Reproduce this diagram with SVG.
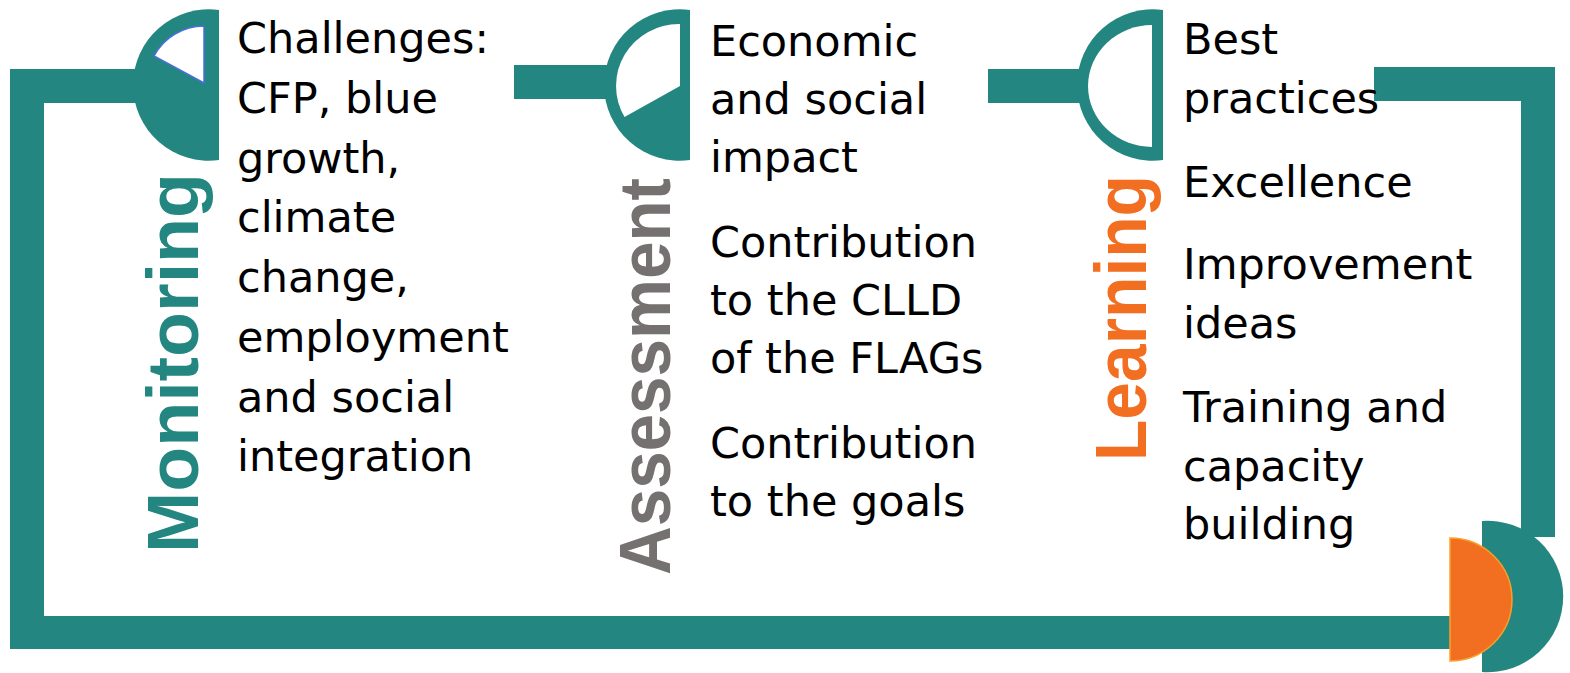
<svg xmlns="http://www.w3.org/2000/svg" width="1570" height="673" viewBox="0 0 1570 673">
<style>
.teal{fill:#248680}
.body{font-family:"DejaVu Sans",sans-serif;font-size:43px;fill:#000}
.lbl{font-family:"Liberation Sans",Arial,sans-serif;font-weight:bold;font-size:73px}
</style>
<rect width="1570" height="673" fill="#fff"/>
<g id="connectors" class="teal">
<rect x="10" y="69" width="140" height="34"/>
<rect x="10" y="69" width="34" height="580"/>
<rect x="10" y="616" width="1450" height="33"/>
<rect x="514" y="65" width="100" height="34"/>
<rect x="988" y="69" width="100" height="34"/>
<rect x="1374" y="67" width="181" height="34"/>
<rect x="1521" y="67" width="34" height="470"/>
</g>
<g id="monitoring">
<path class="teal" d="M219,10 A75.7,75.7 0 1,0 219,160 Z"/>
<path d="M204,83 L204,26 A57,57 0 0,0 154,56 Z" fill="#fff" stroke="#4a6ee0" stroke-width="1.5"/>
<text class="lbl" fill="#248680" transform="translate(198,553) rotate(-90)" textLength="380" lengthAdjust="spacingAndGlyphs">Monitoring</text>
<text class="body" x="237" y="53">Challenges:</text>
<text class="body" x="237" y="112.75">CFP, blue</text>
<text class="body" x="237" y="172.5">growth,</text>
<text class="body" x="237" y="232.25">climate</text>
<text class="body" x="237" y="292">change,</text>
<text class="body" x="237" y="351.75">employment</text>
<text class="body" x="237" y="411.5">and social</text>
<text class="body" x="237" y="471.25">integration</text>
</g>
<g id="assessment">
<path class="teal" d="M690,10 A75.7,75.7 0 1,0 690,160 Z"/>
<path d="M680,86 L680,24 A63,62 0 0,0 624.5,117 Z" fill="#fff"/>
<text class="lbl" fill="#767171" transform="translate(670,575) rotate(-90)" textLength="397" lengthAdjust="spacingAndGlyphs">Assessment</text>
<text class="body" x="710" y="55.7">Economic</text>
<text class="body" x="710" y="114">and social</text>
<text class="body" x="710" y="172.3">impact</text>
<text class="body" x="710" y="256.7">Contribution</text>
<text class="body" x="710" y="315">to the CLLD</text>
<text class="body" x="710" y="373.3">of the FLAGs</text>
<text class="body" x="710" y="457.7">Contribution</text>
<text class="body" x="710" y="516">to the goals</text>
</g>
<g id="learning">
<path class="teal" d="M1163,10 A75.7,75.7 0 1,0 1163,160 Z"/>
<path d="M1152,25 A64,61 0 0,0 1152,147 Z" fill="#fff"/>
<text class="lbl" fill="#f26f21" transform="translate(1146,461) rotate(-90)" textLength="286" lengthAdjust="spacingAndGlyphs">Learning</text>
<text class="body" x="1183" y="54">Best</text>
<text class="body" x="1183" y="112.5">practices</text>
<text class="body" x="1183" y="196.5">Excellence</text>
<text class="body" x="1183" y="279">Improvement</text>
<text class="body" x="1183" y="338">ideas</text>
<text class="body" x="1183" y="422">Training and</text>
<text class="body" x="1183" y="480.5">capacity</text>
<text class="body" x="1183" y="539">building</text>
</g>
<g id="cycle-end">
<path class="teal" d="M1482,521 A75.7,75.7 0 1,1 1482,672 Z"/>
<path d="M1450,538 A62,61.5 0 0,1 1450,661 Z" fill="#f26f21" stroke="#f7a128" stroke-width="1.5"/>
</g>
</svg>
